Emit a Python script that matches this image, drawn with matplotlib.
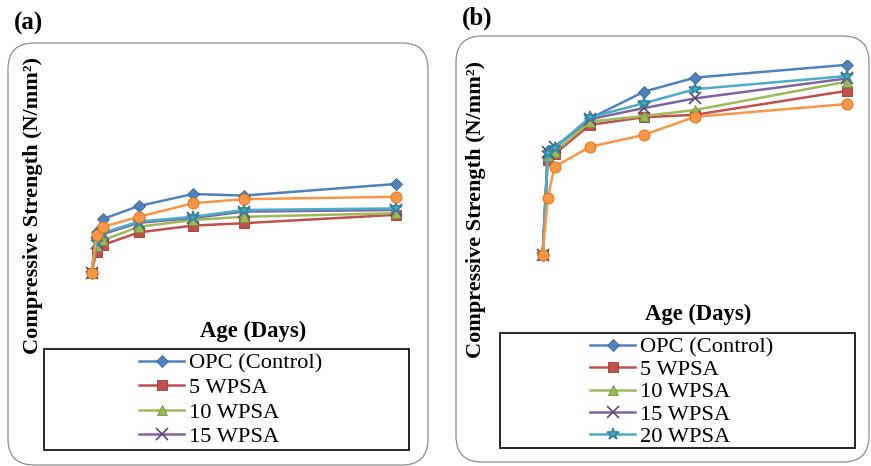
import matplotlib.pyplot as plt
from matplotlib.patches import FancyBboxPatch, Rectangle

plt.rcParams['font.family'] = ['Liberation Serif', 'DejaVu Serif']

W, H = 871, 466

# Data (days and strengths, no axis scale is shown)
days = [0, 3, 7, 28, 60, 90, 180]
series_names = ['OPC (Control)', '5 WPSA', '10 WPSA', '15 WPSA', '20 WPSA', '25 WPSA']

strength_a = {
    'OPC (Control)': [6.8, 17.1, 20.3, 23.5, 26.5, 26.1, 29.0],
    '5 WPSA': [6.8, 12.1, 13.8, 16.9, 18.6, 19.2, 21.3],
    '10 WPSA': [6.8, 13.5, 15.0, 18.3, 20.0, 20.8, 21.7],
    '15 WPSA': [6.8, 14.3, 16.5, 19.3, 20.5, 22.1, 22.5],
    '20 WPSA': [6.8, 14.6, 16.8, 19.6, 20.8, 22.5, 22.9],
    '25 WPSA': [6.8, 16.3, 18.3, 20.8, 24.2, 25.2, 25.8],
}
strength_b = {
    'OPC (Control)': [11.3, 37.3, 38.0, 45.4, 52.1, 55.6, 58.8],
    '5 WPSA': [11.3, 35.0, 36.5, 43.8, 45.7, 46.3, 52.3],
    '10 WPSA': [11.3, 36.0, 37.0, 44.6, 46.0, 47.5, 54.6],
    '15 WPSA': [11.3, 37.0, 38.2, 45.2, 48.0, 50.4, 55.4],
    '20 WPSA': [11.3, 36.8, 38.0, 45.7, 49.2, 52.7, 56.0],
    '25 WPSA': [11.3, 25.6, 33.3, 38.3, 41.3, 45.8, 49.0],
}

colors = ['#4F81BD', '#C0504D', '#9BBB59', '#8064A2', '#4BACC6', '#F79646']
edges = ['#3A659A', '#9E3532', '#76923C', '#5F497A', '#31859C', '#E36C09']
markers = ['D', 's', '^', 'x', '*', 'o']
msizes = [6, 7, 7, 8, 9, 8]


def fig_rect(x0, y0, x1, y1):
    # pixel box (top-left origin) -> figure fraction [l, b, w, h]
    return [x0 / W, (H - y1) / H, (x1 - x0) / W, (y1 - y0) / H]


fig = plt.figure(figsize=(W / 100, H / 100), dpi=100)

# rounded panel borders (drawn in inches so corners stay round)
for (x0, y0, x1, y1) in [(8, 43, 428, 465), (456, 36, 869, 462)]:
    box = FancyBboxPatch(((x0) / 100, (H - y1) / 100), (x1 - x0) / 100, (y1 - y0) / 100,
                         boxstyle='round,pad=0,rounding_size=0.26',
                         transform=fig.dpi_scale_trans, fill=False,
                         edgecolor='#8c8c8c', linewidth=0.9)
    fig.add_artist(box)

panels = [
    dict(data=strength_a, rect=(60, 60, 415, 300), xlim=(-18.64, 191.4), tag='(a)', tag_xy=(14, 23),
         ylab_xy=(33, 206), xlab_xy=(253, 331), frame=(44, 349, 409, 450),
         leg_xy=(139, 400), nleg=4, lspace=0.16),
    dict(data=strength_b, rect=(505, 60, 865, 300), xlim=(-22.28, 190.5), tag='(b)', tag_xy=(462, 18),
         ylab_xy=(476, 210), xlab_xy=(698, 314), frame=(500, 333, 855, 448),
         leg_xy=(590, 392), nleg=5, lspace=0.07),
]

for p in panels:
    ax = fig.add_axes(fig_rect(*p['rect']))
    handles = []
    for i, name in enumerate(series_names):
        h, = ax.plot(days, p['data'][name], color=colors[i], linewidth=1.8,
                     marker=markers[i], markersize=msizes[i],
                     markerfacecolor=colors[i], markeredgecolor=edges[i],
                     markeredgewidth=1.2 if markers[i] in ('x', '*') else 0.6,
                     label=name)
        handles.append(h)
    ax.set_xlim(*p['xlim'])
    ax.set_ylim(0, 60)
    ax.axis('off')

    fig.text(p['tag_xy'][0] / W, 1 - p['tag_xy'][1] / H, p['tag'], fontsize=18,
             fontweight='bold', ha='left', va='center')
    fig.text(p['ylab_xy'][0] / W, 1 - p['ylab_xy'][1] / H, 'Compressive Strength (N/mm²)',
             fontsize=16, fontweight='bold', rotation=90, ha='center', va='center')
    fig.text(p['xlab_xy'][0] / W, 1 - p['xlab_xy'][1] / H, 'Age (Days)',
             fontsize=16.3, fontweight='bold', ha='center', va='center')

    fx0, fy0, fx1, fy1 = p['frame']
    fig.add_artist(Rectangle((fx0 / W, (H - fy1) / H), (fx1 - fx0) / W, (fy1 - fy0) / H,
                             transform=fig.transFigure, fill=False,
                             edgecolor='black', linewidth=1.2))
    n = p['nleg']
    ax.legend(handles[:n], series_names[:n], loc='center left',
              bbox_to_anchor=(p['leg_xy'][0] / W, 1 - p['leg_xy'][1] / H),
              bbox_transform=fig.transFigure, frameon=False, fontsize=16.2,
              handlelength=2.0, handletextpad=0.22, borderpad=0, borderaxespad=0,
              labelspacing=p['lspace'], markerscale=1.0)

fig.savefig('out.png', dpi=100)
